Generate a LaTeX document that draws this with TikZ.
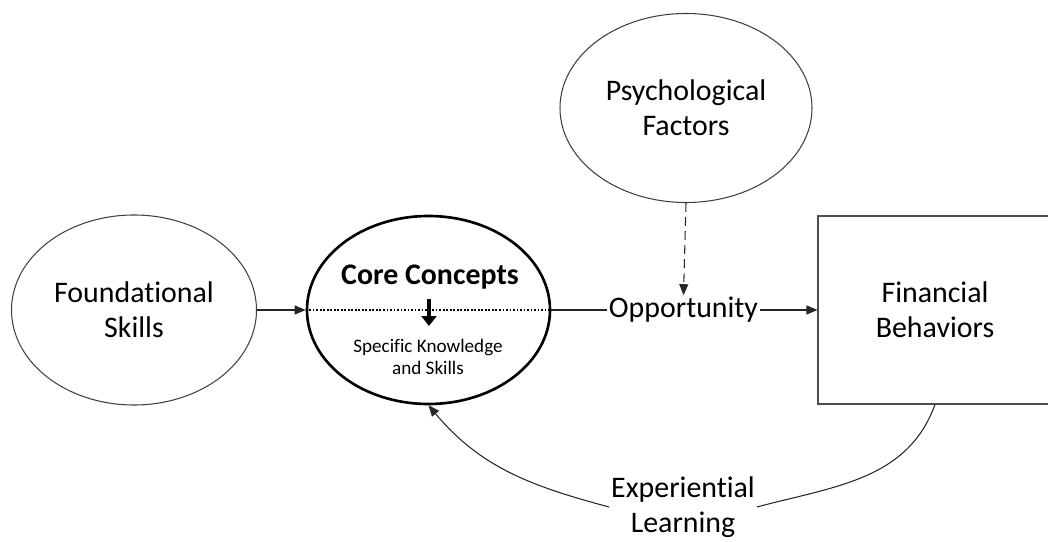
\documentclass[tikz,border=0pt]{standalone}
\usepackage{fontspec}
\setmainfont{Carlito}[Ligatures=CommonOff]
\usetikzlibrary{shapes.geometric,arrows.meta}

\tikzset{
	bubble/.style={ellipse, draw=black!75, line width=0.6pt, minimum width=4.9cm, minimum height=3.8cm, align=center, font=\fontsize{17}{20}\selectfont},
	boxed/.style={rectangle, draw=black!70, line width=0.6pt, minimum width=4.68cm, minimum height=3.76cm, align=center, font=\fontsize{17}{20}\selectfont},
	label/.style={inner sep=1pt, align=center, font=\fontsize{17}{20}\selectfont},
	link/.style={line width=0.6pt, draw=black!85, -{Triangle[length=2.2mm,width=1.8mm]}}
}

\begin{document}
\begin{tikzpicture}
			%%%%% START %%%%%
			\useasboundingbox (0, 0) rectangle (20.96, 10.82);
			
			\node[bubble] (found) at (2.68, 4.62) {Foundational\\Skills};
			\node[bubble, draw=black, line width=1.5pt, minimum width=4.86cm, minimum height=3.76cm] (core) at (8.57, 4.62) {};
			\node[bubble, minimum width=5.04cm, minimum height=3.78cm] (psych) at (13.72, 8.66) {Psychological\\Factors};
			\node[boxed] (fin) at (18.7, 4.62) {Financial\\Behaviors};
			
			% inside core concepts
			\node[label, font=\bfseries\fontsize{17}{20}\selectfont] (title) at (8.6, 5.28) {Core Concepts};
			\node[label, font=\fontsize{10.9}{12.5}\selectfont] (spec) at (8.56, 3.68) {Specific Knowledge\\and Skills};
			\draw[line width=2.2pt, -{Triangle[length=2mm,width=3mm]}] (8.58, 4.84) -- (8.58, 4.3);
			\draw[line width=0.6pt, dash pattern=on 1pt off 1pt] (core.west) -- (core.east);
			
			% opportunity
			\node[label] (opp) at (13.67, 4.62) {Opportunity};
			\draw[line width=0.6pt, draw=black!85] (core.east) -- (opp.west);
			\draw[link] (opp.east) -- (fin.west);
			\draw[link] (found.east) -- (core.west);
			\draw[link, dash pattern=on 5pt off 3pt] (psych.south) -- (opp.north);
			
			% feedback loop
			\node[label] (exper) at (13.66, 0.68) {Experiential\\Learning};
			\draw[line width=0.6pt, draw=black!85] (fin.south) to[out=-110, in=15] (exper.east);
			\draw[link] (exper.west) to[out=165, in=-50] (core.south);
			%%%%% END %%%%%
\end{tikzpicture}
\end{document}
